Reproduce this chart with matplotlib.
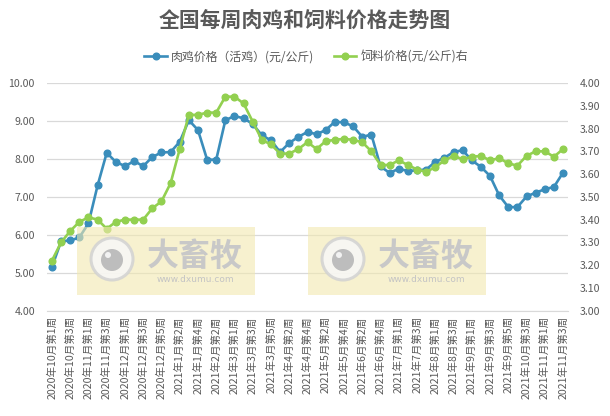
import matplotlib
matplotlib.use("Agg")
import matplotlib.pyplot as plt
from matplotlib.patches import Rectangle, Ellipse

plt.rcParams['font.family'] = ['Noto Sans CJK SC', 'DejaVu Sans']

# 周标签
weeks = [
    "2020年10月第1周", "2020年10月第2周", "2020年10月第3周", "2020年10月第4周",
    "2020年11月第1周", "2020年11月第2周", "2020年11月第3周", "2020年11月第4周",
    "2020年12月第1周", "2020年12月第2周", "2020年12月第3周", "2020年12月第4周",
    "2020年12月第5周", "2021年1月第1周", "2021年1月第2周", "2021年1月第3周",
    "2021年1月第4周", "2021年2月第1周", "2021年2月第2周", "2021年2月第4周",
    "2021年3月第1周", "2021年3月第2周", "2021年3月第3周", "2021年3月第4周",
    "2021年3月第5周", "2021年4月第1周", "2021年4月第2周", "2021年4月第3周",
    "2021年4月第4周", "2021年5月第1周", "2021年5月第2周", "2021年5月第3周",
    "2021年5月第4周", "2021年6月第1周", "2021年6月第2周", "2021年6月第3周",
    "2021年6月第4周", "2021年6月第5周", "2021年7月第1周", "2021年7月第2周",
    "2021年7月第3周", "2021年7月第4周", "2021年8月第1周", "2021年8月第2周",
    "2021年8月第3周", "2021年8月第4周", "2021年9月第1周", "2021年9月第2周",
    "2021年9月第3周", "2021年9月第4周", "2021年9月第5周", "2021年10月第2周",
    "2021年10月第3周", "2021年10月第4周", "2021年11月第1周", "2021年11月第2周",
    "2021年11月第3周",
]

# 肉鸡价格（活鸡）(元/公斤)
chicken = [
    5.15, 5.83, 5.85, 5.93, 6.30, 7.30, 8.16, 7.92, 7.81, 7.94,
    7.81, 8.05, 8.17, 8.18, 8.45, 9.02, 8.76, 7.98, 7.98, 9.02,
    9.13, 9.07, 8.92, 8.62, 8.49, 8.18, 8.42, 8.58, 8.71, 8.65,
    8.76, 8.98, 8.96, 8.86, 8.58, 8.64, 7.80, 7.63, 7.74, 7.68,
    7.70, 7.72, 7.92, 8.03, 8.18, 8.23, 7.96, 7.79, 7.55, 7.04,
    6.73, 6.73, 7.01, 7.11, 7.20, 7.26, 7.64,
]

# 饲料价格(元/公斤)右
feed = [
    3.22, 3.30, 3.35, 3.39, 3.41, 3.40, 3.36, 3.39, 3.40, 3.40,
    3.40, 3.45, 3.48, 3.56, 3.71, 3.86, 3.86, 3.87, 3.87, 3.94,
    3.94, 3.91, 3.83, 3.75, 3.73, 3.69, 3.69, 3.71, 3.74, 3.71,
    3.745, 3.75, 3.755, 3.75, 3.74, 3.70, 3.64, 3.64, 3.66, 3.64,
    3.62, 3.61, 3.63, 3.66, 3.68, 3.665, 3.676, 3.68, 3.66, 3.67,
    3.647, 3.637, 3.68, 3.70, 3.70, 3.676, 3.71,
]

blue = '#3a8dbb'
green = '#92d050'
txt = '#595959'
x = list(range(len(weeks)))
W, H = 610, 416

fig = plt.figure(figsize=(6.1, 4.16), dpi=100)
ax = fig.add_axes([0.0777, 0.2531, 0.8528, 0.5474])
ax2 = ax.twinx()

l1, = ax.plot(x, chicken, color=blue, lw=1.9, marker='o', ms=4.8,
              label='肉鸡价格（活鸡）(元/公斤)', zorder=3)
l2, = ax2.plot(x, feed, color=green, lw=1.9, marker='o', ms=4.8,
               label='饲料价格(元/公斤)右', zorder=3)

ax.set_ylim(4, 10)
ax.set_yticks([4, 5, 6, 7, 8, 9, 10])
ax.set_yticklabels(['%.2f' % v for v in [4, 5, 6, 7, 8, 9, 10]])
ax2.set_ylim(3, 4)
rt = [3 + i / 10 for i in range(11)]
ax2.set_yticks(rt)
ax2.set_yticklabels(['%.2f' % v for v in rt])

ax.set_xlim(-0.5, len(weeks) - 0.5)
ax.set_xticks(x[::2])
ax.set_xticklabels(weeks[::2], rotation=90, fontsize=7.6, color=txt)

ax.grid(axis='y', color='#d9d9d9', lw=0.9)
ax.set_axisbelow(True)
for a in (ax, ax2):
    for s in a.spines.values():
        s.set_visible(False)
    a.tick_params(length=0, colors=txt, labelsize=7.6)
ax.spines['bottom'].set_visible(True)
ax.spines['bottom'].set_color('#d9d9d9')
ax.tick_params(axis='x', pad=4)
ax.tick_params(axis='y', pad=9)
ax2.tick_params(axis='y', pad=9)

fig.text(0.5, 0.952, '全国每周肉鸡和饲料价格走势图', ha='center', va='center',
         fontsize=15, fontweight='bold', color=txt)
fig.legend(handles=[l1, l2], loc='center', bbox_to_anchor=(0.502, 0.863),
           ncol=2, frameon=False, fontsize=8.6, labelcolor=txt,
           handlelength=1.9, columnspacing=1.6, handletextpad=0.35)

# 水印
for x0 in (77, 308):
    fig.patches.append(Rectangle((x0 / W, 1 - 295 / H), 178 / W, 68 / H,
                                 transform=fig.transFigure, facecolor='#f2e9b0',
                                 alpha=0.6, edgecolor='none', zorder=5))
    cx, cy = (x0 + 35) / W, 1 - 259 / H
    fig.patches.append(Ellipse((cx, cy), 42 / W, 42 / H, transform=fig.transFigure,
                               facecolor='#f8f8f8', edgecolor='#d2d2d2', lw=2.2,
                               alpha=0.85, zorder=6))
    fig.patches.append(Ellipse((cx, cy - 1 / H), 22 / W, 22 / H,
                               transform=fig.transFigure, facecolor='#bdbdbd',
                               edgecolor='none', zorder=7))
    fig.patches.append(Ellipse((cx - 4 / W, cy + 4 / H), 6 / W, 6 / H,
                               transform=fig.transFigure, facecolor='#f2f2f2',
                               edgecolor='none', zorder=8))
    fig.text((x0 + 118) / W, 1 - 257 / H, '大畜牧', ha='center', va='center',
             fontsize=23, fontweight='bold', color='#c8c8c8', zorder=6)
    fig.text((x0 + 118) / W, 1 - 280 / H, 'www.dxumu.com', ha='center',
             va='center', fontsize=6.5, color='#c4c4c4', zorder=6,
             family='DejaVu Sans')

fig.savefig('out.png', dpi=100)
